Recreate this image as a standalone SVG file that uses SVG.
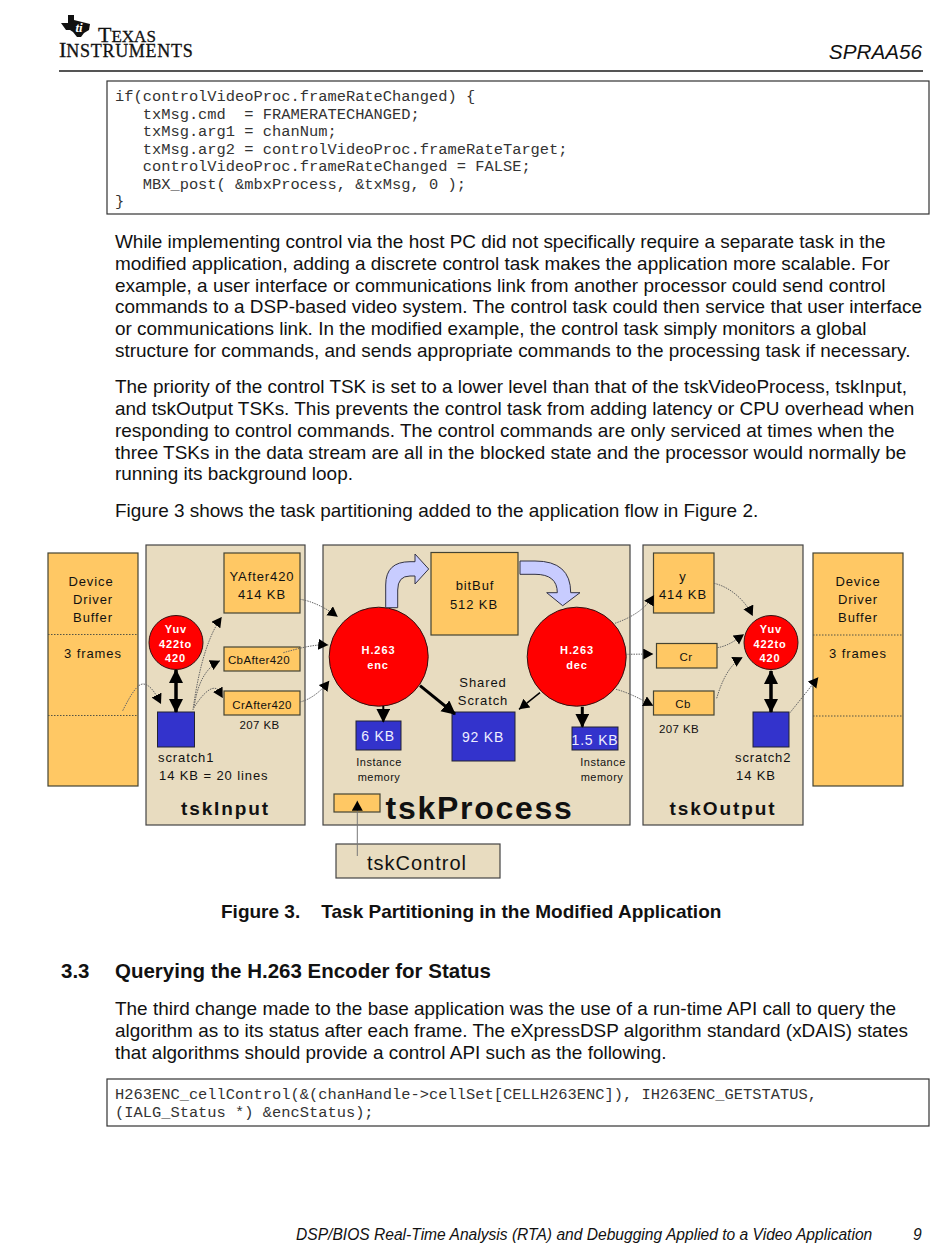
<svg xmlns="http://www.w3.org/2000/svg" width="950" height="1260" viewBox="0 0 950 1260">
<style>
text{font-family:"Liberation Sans",Arial,sans-serif;fill:#111}
.body{font-size:18.96px}
.code{font-family:"Liberation Mono","Courier New",monospace;font-size:15.4px;fill:#333}
.codebox{fill:#fff;stroke:#333;stroke-width:1.2}
.panel{fill:#e8dcc0;stroke:#444;stroke-width:1.2}
.org{fill:#ffc864;stroke:#443;stroke-width:1.2}
.blue{fill:#3333cc;stroke:#223;stroke-width:1}
.red{fill:#ff0000;stroke:#311;stroke-width:1}
.lbl{font-size:13px;letter-spacing:.9px;text-anchor:middle}
.sm{font-size:11.5px;letter-spacing:.4px;text-anchor:middle}
.sm2{font-size:11px;letter-spacing:.5px;text-anchor:middle}
.wh{font-size:11px;font-weight:bold;letter-spacing:.9px;text-anchor:middle;fill:#fff}
.bl{font-size:14px;letter-spacing:.8px;text-anchor:middle;fill:#eef}
.tsk{font-size:19px;font-weight:bold;letter-spacing:1.9px;text-anchor:middle}
.div{stroke:#554;stroke-width:1;stroke-dasharray:1.5 1.5}
.thin{fill:none;stroke:#666;stroke-width:1;stroke-dasharray:1.5 1}
.thick{fill:none;stroke:#000}
.block{fill:#c8ccff;stroke:#334;stroke-width:1}
.it{font-style:italic}
</style>
<defs>
<marker id="ah" markerUnits="userSpaceOnUse" markerWidth="12" markerHeight="12" refX="10" refY="5.500" orient="auto"><path d="M0 0L10 5.500L0 11Z" fill="#000"/></marker>
<marker id="big" markerUnits="userSpaceOnUse" markerWidth="16" markerHeight="16" refX="13" refY="7" orient="auto-start-reverse"><path d="M0 0L14 7L0 14Z" fill="#000"/></marker>
</defs>
<rect width="950" height="1260" fill="#fff"/>

<g id="header">
<path d="M61 23L68 23L68 15L74 15L74 20L90 24L89 30L84 33L81 37L77 37L73 32L70 30L66 30Z" fill="#111"/>
<text x="79" y="32" font-size="13" font-style="italic" font-weight="bold" text-anchor="middle" style="font-family:'Liberation Serif',serif;fill:#fff">ti</text>
<text style="font-family:'Liberation Serif',serif" font-size="17" stroke="#111" stroke-width=".3"><tspan x="98" y="42" font-size="22">T</tspan><tspan>EXAS</tspan><tspan x="59" y="57" font-size="22">I</tspan><tspan font-size="18" letter-spacing=".7">NSTRUMENTS</tspan></text>
<text x="922" y="59" font-size="20.700" class="it" text-anchor="end">SPRAA56</text>
<rect x="59" y="70" width="864" height="2" fill="#555"/>
</g>

<g id="code1">
<rect class="codebox" x="107" y="81" width="822" height="133"/>
<text class="code" x="115" y="101">if(controlVideoProc.frameRateChanged) {</text>
<text class="code" x="115" y="118.500" xml:space="preserve">   txMsg.cmd  = FRAMERATECHANGED;</text>
<text class="code" x="115" y="136" xml:space="preserve">   txMsg.arg1 = chanNum;</text>
<text class="code" x="115" y="153.500" xml:space="preserve">   txMsg.arg2 = controlVideoProc.frameRateTarget;</text>
<text class="code" x="115" y="171" xml:space="preserve">   controlVideoProc.frameRateChanged = FALSE;</text>
<text class="code" x="115" y="188.500" xml:space="preserve">   MBX_post( &amp;mbxProcess, &amp;txMsg, 0 );</text>
<text class="code" x="115" y="206">}</text>
</g>

<g id="para1">
<text class="body" x="115" y="248">While implementing control via the host PC did not specifically require a separate task in the</text>
<text class="body" x="115" y="270">modified application, adding a discrete control task makes the application more scalable. For</text>
<text class="body" x="115" y="292">example, a user interface or communications link from another processor could send control</text>
<text class="body" x="115" y="313">commands to a DSP-based video system. The control task could then service that user interface</text>
<text class="body" x="115" y="335">or communications link. In the modified example, the control task simply monitors a global</text>
<text class="body" x="115" y="357">structure for commands, and sends appropriate commands to the processing task if necessary.</text>
</g>
<g id="para2">
<text class="body" x="115" y="393">The priority of the control TSK is set to a lower level than that of the tskVideoProcess, tskInput,</text>
<text class="body" x="115" y="415">and tskOutput TSKs. This prevents the control task from adding latency or CPU overhead when</text>
<text class="body" x="115" y="437">responding to control commands. The control commands are only serviced at times when the</text>
<text class="body" x="115" y="459">three TSKs in the data stream are all in the blocked state and the processor would normally be</text>
<text class="body" x="115" y="480">running its background loop.</text>
</g>
<text class="body" x="115" y="517">Figure 3 shows the task partitioning added to the application flow in Figure 2.</text>

<g id="panel-tskInput"><rect class="panel" x="146" y="545" width="159" height="280"/><text class="tsk" x="225.500" y="815">tskInput</text></g>
<g id="panel-tskProcess"><rect class="panel" x="323" y="545" width="307" height="280"/><text x="479.500" y="819" font-size="32" font-weight="bold" letter-spacing="1.700" text-anchor="middle">tskProcess</text></g>
<g id="panel-tskOutput"><rect class="panel" x="643" y="545" width="160" height="280"/><text class="tsk" x="723" y="815">tskOutput</text></g>
<g id="tskControl"><rect class="panel" x="336" y="844" width="164" height="34"/><text x="417" y="869.500" font-size="20" letter-spacing="1" text-anchor="middle">tskControl</text></g>

<g id="bufferL"><rect class="org" x="48" y="553" width="90" height="233"/><line class="div" x1="48" y1="634.500" x2="138" y2="634.500"/><line class="div" x1="48" y1="715.500" x2="138" y2="715.500"/>
<text class="lbl" x="91" y="586">Device</text><text class="lbl" x="93" y="604">Driver</text><text class="lbl" x="93" y="622">Buffer</text><text class="lbl" x="93" y="658">3 frames</text></g>
<g id="bufferR"><rect class="org" x="813" y="553" width="90" height="233"/><line class="div" x1="813" y1="635" x2="903" y2="635"/><line class="div" x1="813" y1="716" x2="903" y2="716"/>
<text class="lbl" x="858" y="586">Device</text><text class="lbl" x="858" y="604">Driver</text><text class="lbl" x="858" y="622">Buffer</text><text class="lbl" x="858" y="658">3 frames</text></g>

<g id="YAfter420"><rect class="org" x="224" y="553" width="76" height="60"/><text class="lbl" x="262" y="581">YAfter420</text><text class="lbl" x="262" y="599">414 KB</text></g>
<g id="CbAfter420"><rect class="org" x="224" y="647" width="76" height="24"/><text class="sm" x="259" y="664">CbAfter420</text></g>
<g id="CrAfter420"><rect class="org" x="224" y="691" width="76" height="24"/><text class="sm" x="262" y="709">CrAfter420</text><text class="sm" x="259.500" y="729">207 KB</text></g>
<g id="YuvL"><circle class="red" cx="176" cy="642.500" r="27"/><text class="wh" x="176" y="633">Yuv</text><text class="wh" x="175.500" y="647.500">422to</text><text class="wh" x="175.500" y="662">420</text></g>
<g id="scratch1"><rect class="blue" x="157.500" y="712" width="37" height="35"/><text class="lbl" x="158" y="762" style="text-anchor:start">scratch1</text><text class="lbl" x="159" y="780" style="text-anchor:start">14 KB = 20 lines</text></g>

<g id="bitBuf"><rect class="org" x="431" y="552.500" width="87" height="82.500"/><text class="lbl" x="475" y="590">bitBuf</text><text class="lbl" x="474" y="609">512 KB</text></g>
<g id="enc"><circle class="red" cx="378.700" cy="656.700" r="49.500"/><text class="wh" x="378.500" y="654">H.263</text><text class="wh" x="378" y="669">enc</text></g>
<g id="dec"><circle class="red" cx="576.700" cy="656.700" r="49.500"/><text class="wh" x="577" y="654">H.263</text><text class="wh" x="577" y="669">dec</text></g>
<g id="mem6"><rect class="blue" x="356" y="721" width="45" height="29"/><text class="bl" x="378" y="741">6 KB</text><text class="sm2" x="379" y="766">Instance</text><text class="sm2" x="379" y="781">memory</text></g>
<g id="scratch92"><text class="lbl" x="483" y="687">Shared</text><text class="lbl" x="483" y="705">Scratch</text><rect class="blue" x="452" y="712" width="63" height="49"/><text class="bl" x="483" y="742">92 KB</text></g>
<g id="mem15"><rect class="blue" x="572" y="727" width="46" height="23"/><text class="bl" x="595" y="745">1.5 KB</text><text class="sm2" x="603" y="766">Instance</text><text class="sm2" x="602" y="781">memory</text></g>
<g id="controlSlot"><rect class="org" x="334" y="794" width="46" height="18"/></g>

<g id="y"><rect class="org" x="653.500" y="553" width="60.500" height="60"/><text class="lbl" x="683" y="581">y</text><text class="lbl" x="683" y="599">414 KB</text></g>
<g id="Cr"><rect class="org" x="656.500" y="643.500" width="60.500" height="24.500"/><text class="sm" x="686" y="661">Cr</text></g>
<g id="Cb"><rect class="org" x="653.500" y="691" width="60.500" height="24"/><text class="sm" x="683" y="708">Cb</text><text class="sm" x="679" y="733">207 KB</text></g>
<g id="YuvR"><circle class="red" cx="771" cy="642.500" r="27"/><text class="wh" x="771" y="633">Yuv</text><text class="wh" x="770" y="647.500">422to</text><text class="wh" x="770" y="662">420</text></g>
<g id="scratch2"><rect class="blue" x="753" y="712" width="36" height="35"/><text class="lbl" x="735" y="762" style="text-anchor:start">scratch2</text><text class="lbl" x="736" y="780" style="text-anchor:start">14 KB</text></g>

<g id="connectors">
<path class="thin" marker-end="url(#ah)" d="M122.700 710.700C132 692 138 684 143 684C150 684 156 694 161 704"/>
<path class="thin" marker-end="url(#ah)" d="M193 710C197 680 205 640 221.700 617"/>
<path class="thin" marker-end="url(#ah)" d="M194 708C197 685 205 668 220 660.700"/>
<path class="thin" marker-end="url(#ah)" d="M195 706C204 692 212 686 217 689C220 691 221 695 222.700 698"/>
<path class="thin" marker-end="url(#ah)" d="M300 599.300C312 601 326 608 337.700 616.700"/>
<path class="thin" marker-end="url(#ah)" d="M283.300 652.700C300 648 315 644 328.300 645"/>
<path class="thin" marker-end="url(#ah)" d="M300 702C312 699 322 690 329.300 680.700"/>
<path class="thin" marker-end="url(#ah)" d="M615 623.300C630 618 645 610 654 595"/>
<path class="thin" marker-end="url(#ah)" d="M626 654.300L653.300 654"/>
<path class="thin" marker-end="url(#ah)" d="M616 689.300C630 693 642 700 653.300 705.700"/>
<path class="thin" marker-end="url(#ah)" d="M714 583.300C730 587 745 600 752.700 616"/>
<path class="thin" marker-end="url(#ah)" d="M717.300 647.700C728 646 736 640 744 634.300"/>
<path class="thin" marker-end="url(#ah)" d="M716.700 698.300C722 680 730 664 742.700 657.300"/>
<path class="thin" marker-end="url(#ah)" d="M790 712.700L818.300 677.300"/>
<path d="M357.300 856L357.300 800.700" fill="none" stroke="#777" stroke-width="1" marker-end="url(#ah)"/>
<path d="M540 692.700L519 709.300" fill="none" stroke="#000" stroke-width="1.500" marker-end="url(#ah)"/>
<path class="thick" stroke-width="3.500" marker-start="url(#big)" marker-end="url(#big)" d="M176 670L176 712"/>
<path class="thick" stroke-width="3.500" marker-start="url(#big)" marker-end="url(#big)" d="M771 671L771 712"/>
<path class="thick" stroke-width="3" marker-end="url(#big)" d="M420 685.700L455 714"/>
<path class="thick" stroke-width="2" marker-end="url(#big)" d="M383.300 706L383.300 721.700"/>
<path class="thick" stroke-width="3" marker-end="url(#big)" d="M582.300 706.700L582.300 726.700"/>
<path class="block" d="M385.700 607.700L385.700 585Q385.700 561.700 410 561.700L415 561.700L415 554L428.700 569L415 584L415 576L410 576Q397.700 576 397.700 590L397.700 607.700Z"/>
<path class="block" d="M520 561L535 561Q570.700 561 570.700 592.700L580 592.700L562.700 605.700L546.700 592.700L557.300 592.700Q557.300 574.300 535 574.300L520 574.300Z"/>
</g>

<text x="221" y="918" font-size="19" font-weight="bold" xml:space="preserve">Figure 3.    Task Partitioning in the Modified Application</text>
<text x="61" y="978" font-size="20.500" font-weight="bold">3.3</text>
<text x="115" y="978" font-size="20.500" font-weight="bold">Querying the H.263 Encoder for Status</text>
<g id="para3">
<text class="body" x="115" y="1015">The third change made to the base application was the use of a run-time API call to query the</text>
<text class="body" x="115" y="1037">algorithm as to its status after each frame. The eXpressDSP algorithm standard (xDAIS) states</text>
<text class="body" x="115" y="1059">that algorithms should provide a control API such as the following.</text>
</g>
<g id="code2">
<rect class="codebox" x="107" y="1079" width="822" height="47"/>
<text class="code" x="115" y="1099">H263ENC_cellControl(&amp;(chanHandle-&gt;cellSet[CELLH263ENC]), IH263ENC_GETSTATUS,</text>
<text class="code" x="115" y="1117">(IALG_Status *) &amp;encStatus);</text>
</g>
<g id="footer">
<text x="296" y="1240" font-size="15.600" class="it">DSP/BIOS Real-Time Analysis (RTA) and Debugging Applied to a Video Application</text>
<text x="913" y="1240" font-size="15.600" class="it">9</text>
</g>
</svg>
